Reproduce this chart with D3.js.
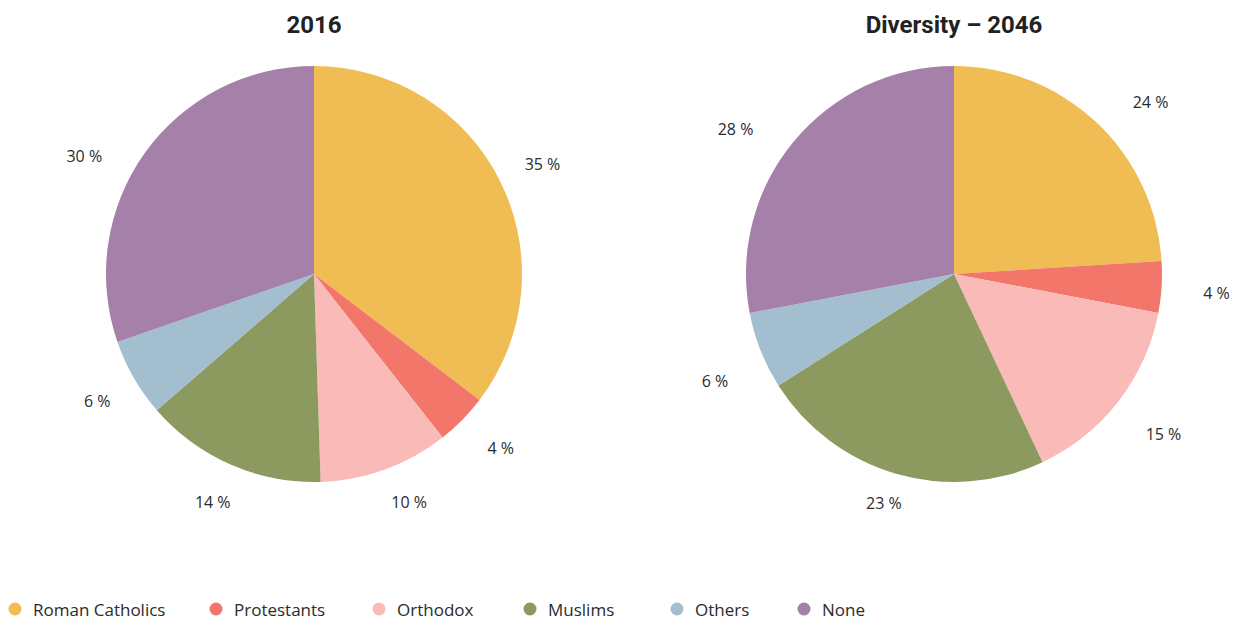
<!DOCTYPE html>
<html>
<head>
<meta charset="utf-8">
<script src="https://cdn.jsdelivr.net/npm/d3@7"></script>
<style>
  html, body { margin: 0; padding: 0; background: #fff; }
  svg { display: block; }
</style>
</head>
<body>
<svg id="chart" width="1243" height="621"></svg>
<script>
// Religious affiliation shares, in percent
const categories = ["Roman Catholics", "Protestants", "Orthodox", "Muslims", "Others", "None"];
const colors = ["#F0BD55", "#F2766A", "#F9BAB8", "#8C9A5F", "#A2BECF", "#A580A8"];
const values2016 = [35, 4, 10, 14, 6, 30];
const values2046 = [24, 4, 15, 23, 6, 28];
const titles = ["2016", "Diversity \u2013 2046"];

// Layout: small pixel nudges applied to each percentage label after
// placing it on the label ring, so labels clear the slice edges.
const labelNudge2016 = [[0, 3], [5, -5], [8, -12], [1, -6], [4, -1], [-22, 30]];
const labelNudge2046 = [[22, 14], [8, 3], [8, 4], [1, -16], [-2, 13], [-22, 18]];

const svg = d3.select("#chart");
const color = d3.scaleOrdinal().domain(categories).range(colors);

const charts = [
  { title: titles[0], values: values2016, nudge: labelNudge2016, cx: 314, cy: 274 },
  { title: titles[1], values: values2046, nudge: labelNudge2046, cx: 954, cy: 274 }
];

const radius = 208;
const labelR = 255;
const pie = d3.pie().sort(null).value(d => d.value);
const arc = d3.arc().innerRadius(0).outerRadius(radius);
const labelArc = d3.arc().innerRadius(labelR).outerRadius(labelR);

charts.forEach(c => {
  const data = categories.map((name, i) => ({ name, value: c.values[i] }));
  const g = svg.append("g").attr("transform", `translate(${c.cx},${c.cy})`);

  const arcs = pie(data);
  g.selectAll("path")
    .data(arcs)
    .join("path")
    .attr("d", arc)
    .attr("fill", d => color(d.data.name));

  g.selectAll("text.pct")
    .data(arcs)
    .join("text")
    .attr("class", "pct")
    .attr("transform", (d, i) => {
      const [x, y] = labelArc.centroid(d);
      return `translate(${x + c.nudge[i][0]},${y + c.nudge[i][1]})`;
    })
    .attr("text-anchor", "middle")
    .attr("dominant-baseline", "central")
    .attr("font-family", "'Open Sans', 'Noto Sans', sans-serif")
    .attr("font-size", 16)
    .attr("fill", "#2b2b2b")
    .text(d => `${d.data.value} %`);

  svg.append("text")
    .attr("x", c.cx)
    .attr("y", 33)
    .attr("text-anchor", "middle")
    .attr("font-family", "Roboto, 'Liberation Sans', sans-serif")
    .attr("font-weight", "bold")
    .attr("font-size", 24)
    .attr("fill", "#222")
    .text(c.title);
});

// Legend along the bottom
const legendX = [15, 216, 379, 530, 677, 804];
const legend = svg.append("g").attr("transform", "translate(0,609)");
const items = legend.selectAll("g")
  .data(categories)
  .join("g")
  .attr("transform", (d, i) => `translate(${legendX[i]},0)`);
items.append("circle")
  .attr("r", 6.5)
  .attr("fill", d => color(d));
items.append("text")
  .attr("x", 18)
  .attr("dominant-baseline", "central")
  .attr("font-family", "'Open Sans', 'Noto Sans', sans-serif")
  .attr("font-size", 17)
  .attr("fill", "#2b2b2b")
  .text(d => d);
</script>
</body>
</html>
